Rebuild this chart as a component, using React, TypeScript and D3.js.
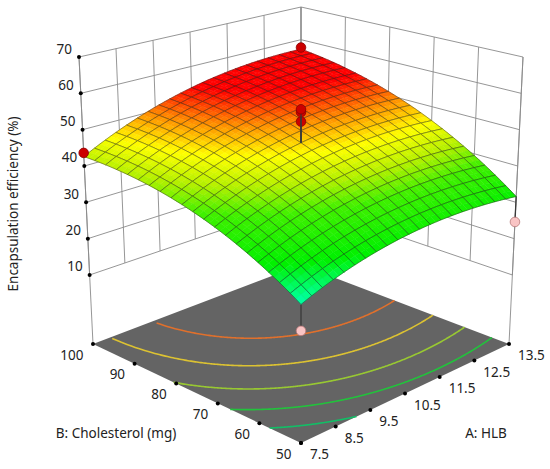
import React, { useEffect, useRef } from 'react';
import * as d3 from 'd3';

// factor ticks
const hlbTicks = [7.5, 8.5, 9.5, 10.5, 11.5, 12.5, 13.5];
const cholTicks = [50, 60, 70, 80, 90, 100];
const effTicks = [10, 20, 30, 40, 50, 60, 70];
const effFloor = -9;
const effTop = 70;

// quadratic model in coded units: intercept, A, B, AB, A^2, B^2
const modelCoef = [47.5, 5.25, 10.75, 2.0, -4.0, -4.4];

// design points (actual values)
const pointHLB = [7.5, 13.5, 7.5, 13.5, 10.5, 10.5, 10.5];
const pointChol = [100, 50, 50, 100, 75, 75, 75];
const pointEff = [43.6, 24.6, 18.6, 57.6, 53.3, 55.9, 56.7];

// floor contour levels
const contourLevels = [30, 35, 40, 45, 50];
const contourColors = ['#12be66', '#22c23c', '#98c832', '#dcc232', '#e0702c'];

// surface colour ramp
const colorStops = [24, 27, 31, 38, 42, 46, 50, 54];
const colorRange = ['#00ffd0', '#00ff7a', '#00f000', '#40f000', '#b4f000', '#ffff00', '#ff9000', '#ff0000'];

const W = 550;
const H = 469;
const MESH = 20;
const SUB = 2;
const FONT = "'Noto Sans', 'Open Sans', sans-serif";

// box corners on screen: front, right, left, back (floor and top)
const floorCorners = { f: [301, 443], r: [509, 344], l: [93, 344], b: [301, 265] };
const topCorners = { f: [301, 122], r: [523, 57], l: [79, 57], b: [301, 7] };

const App = () => {
  const ref: any = useRef();

  useEffect(() => {
    const svg = d3.select(ref.current);
    svg.selectAll('*').remove();

    const u = d3.scaleLinear().domain([7.5, 13.5]).range([0, 1]);
    const v = d3.scaleLinear().domain([50, 100]).range([0, 1]);
    const w = d3.scaleLinear().domain([effFloor, effTop]).range([0, 1]);
    const codedA = d3.scaleLinear().domain([7.5, 13.5]).range([-1, 1]);
    const codedB = d3.scaleLinear().domain([50, 100]).range([-1, 1]);
    const color = d3.scaleLinear<string>().domain(colorStops).range(colorRange)
      .interpolate(d3.interpolateRgb).clamp(true);

    const predict = (A: number, B: number) => {
      const a = codedA(A), b = codedB(B);
      const c = modelCoef;
      return c[0] + c[1] * a + c[2] * b + c[3] * a * b + c[4] * a * a + c[5] * b * b;
    };

    const bilerp = (c: any, uu: number, vv: number) => [
      (1 - uu) * (1 - vv) * c.f[0] + uu * (1 - vv) * c.r[0] + (1 - uu) * vv * c.l[0] + uu * vv * c.b[0],
      (1 - uu) * (1 - vv) * c.f[1] + uu * (1 - vv) * c.r[1] + (1 - uu) * vv * c.l[1] + uu * vv * c.b[1],
    ];

    const project = (A: number, B: number, z: number): [number, number] => {
      const uu = u(A), vv = v(B), ww = w(z);
      const p0 = bilerp(floorCorners, uu, vv);
      const p1 = bilerp(topCorners, uu, vv);
      return [p0[0] + (p1[0] - p0[0]) * ww, p0[1] + (p1[1] - p0[1]) * ww];
    };

    const line = d3.line<[number, number]>().x(d => d[0]).y(d => d[1]);

    svg.append('rect').attr('width', W).attr('height', H).attr('fill', '#fff');

    // back walls
    const walls = svg.append('g').attr('fill', 'none').attr('stroke', '#8a8a8a').attr('stroke-width', 0.9);
    effTicks.forEach(z => {
      walls.append('path').attr('d', line([project(7.5, 100, z), project(13.5, 100, z), project(13.5, 50, z)]));
    });
    hlbTicks.forEach(A => {
      walls.append('path').attr('d', line([project(A, 100, 10), project(A, 100, effTop)]));
    });
    cholTicks.forEach(B => {
      walls.append('path').attr('d', line([project(13.5, B, 10), project(13.5, B, effTop)]));
    });
    [[7.5, 100], [13.5, 50], [13.5, 100]].forEach(([A, B]) => {
      walls.append('path').attr('d', line([project(A, B, effFloor), project(A, B, effTop)]));
    });

    // floor
    svg.append('path')
      .attr('d', line([project(7.5, 50, effFloor), project(13.5, 50, effFloor), project(13.5, 100, effFloor), project(7.5, 100, effFloor)]) + 'Z')
      .attr('fill', '#646464');

    // floor contours
    const steps = d3.range(0, 401).map(k => 7.5 + (6 * k) / 400);
    contourLevels.forEach((lev, li) => {
      const pts: [number, number][] = [];
      steps.forEach(A => {
        const a = codedA(A), c = modelCoef;
        const q = c[2] + c[3] * a;
        const r = c[0] + c[1] * a + c[4] * a * a - lev;
        const disc = q * q - 4 * c[5] * r;
        if (disc < 0) return;
        const b = (-q + Math.sqrt(disc)) / (2 * c[5]);
        if (b < -1 || b > 1) return;
        pts.push(project(A, codedB.invert(b), effFloor));
      });
      svg.append('path').attr('d', line(pts)).attr('fill', 'none')
        .attr('stroke', contourColors[li]).attr('stroke-width', 1.6);
    });

    // tick dots and labels
    const ticks = svg.append('g').attr('font-family', FONT).attr('font-size', 13.5).attr('fill', '#222');
    effTicks.forEach(z => {
      const p = project(7.5, 100, z);
      ticks.append('circle').attr('cx', p[0]).attr('cy', p[1]).attr('r', 2).attr('fill', '#000');
      ticks.append('text').attr('x', p[0] - 7).attr('y', p[1] - 8.5).attr('text-anchor', 'end')
        .attr('dominant-baseline', 'central').text(z);
    });
    hlbTicks.forEach(A => {
      const p = project(A, 50, effFloor);
      ticks.append('circle').attr('cx', p[0]).attr('cy', p[1]).attr('r', 2).attr('fill', '#000');
      ticks.append('text').attr('x', p[0] + 9).attr('y', p[1] + 11).attr('text-anchor', 'start')
        .attr('dominant-baseline', 'central').text(A.toFixed(1));
    });
    cholTicks.forEach(B => {
      const p = project(7.5, B, effFloor);
      ticks.append('circle').attr('cx', p[0]).attr('cy', p[1]).attr('r', 2).attr('fill', '#000');
      ticks.append('text').attr('x', p[0] - 9.5).attr('y', p[1] + 10.5).attr('text-anchor', 'end')
        .attr('dominant-baseline', 'central').text(B);
    });

    // design points: below surface first
    const drawPoint = (g: any, i: number) => {
      const zs = predict(pointHLB[i], pointChol[i]);
      const above = pointEff[i] >= zs;
      const p = project(pointHLB[i], pointChol[i], pointEff[i]);
      const s = project(pointHLB[i], pointChol[i], zs);
      g.append('path').attr('d', line([p, s])).attr('stroke', '#3a3a3a').attr('stroke-width', 1.3);
      g.append('circle').attr('cx', p[0]).attr('cy', p[1]).attr('r', 4.8)
        .attr('fill', above ? '#cc0000' : '#f9c4c4')
        .attr('stroke', above ? '#8a0000' : '#b87878').attr('stroke-width', 0.8);
    };
    const below = svg.append('g');
    pointEff.forEach((e, i) => {
      if (e < predict(pointHLB[i], pointChol[i])) drawPoint(below, i);
    });

    // surface, back to front
    const surf = svg.append('g');
    const cells: [number, number][] = [];
    for (let i = 0; i < MESH; i++) for (let j = 0; j < MESH; j++) cells.push([i, j]);
    cells.sort((p, q) => (q[0] + q[1]) - (p[0] + p[1]));
    const nA = (k: number) => 7.5 + (6 * k) / (MESH * SUB);
    const nB = (k: number) => 50 + (50 * k) / (MESH * SUB);
    const sp = (ka: number, kb: number) => project(nA(ka), nB(kb), predict(nA(ka), nB(kb)));

    cells.forEach(([i, j]) => {
      for (let si = SUB - 1; si >= 0; si--) {
        for (let sj = SUB - 1; sj >= 0; sj--) {
          const ka = i * SUB + si, kb = j * SUB + sj;
          const zc = predict(nA(ka + 0.5), nB(kb + 0.5));
          const col = color(zc);
          surf.append('path')
            .attr('d', line([sp(ka, kb), sp(ka + 1, kb), sp(ka + 1, kb + 1), sp(ka, kb + 1)]) + 'Z')
            .attr('fill', col).attr('stroke', col).attr('stroke-width', 0.5);
        }
      }
      const edge: [number, number][] = [];
      const a0 = i * SUB, b0 = j * SUB;
      for (let k = 0; k <= SUB; k++) edge.push(sp(a0 + k, b0));
      for (let k = 1; k <= SUB; k++) edge.push(sp(a0 + SUB, b0 + k));
      for (let k = SUB - 1; k >= 0; k--) edge.push(sp(a0 + k, b0 + SUB));
      for (let k = SUB - 1; k >= 0; k--) edge.push(sp(a0, b0 + k));
      surf.append('path').attr('d', line(edge)).attr('fill', 'none')
        .attr('stroke', '#1c1c1c').attr('stroke-opacity', 0.72).attr('stroke-width', 0.6);
    });

    // design points above surface
    const aboveG = svg.append('g');
    pointEff.forEach((e, i) => {
      if (e >= predict(pointHLB[i], pointChol[i])) drawPoint(aboveG, i);
    });

    // axis titles
    const titles = svg.append('g').attr('font-family', FONT).attr('font-size', 13.5).attr('fill', '#222');
    titles.append('text').attr('transform', 'translate(18,204) rotate(-90)').attr('text-anchor', 'middle')
      .text('Encapsulation efficiency (%)');
    titles.append('text').attr('x', 116).attr('y', 433).attr('text-anchor', 'middle')
      .attr('dominant-baseline', 'central').text('B: Cholesterol (mg)');
    titles.append('text').attr('x', 486).attr('y', 433).attr('text-anchor', 'middle')
      .attr('dominant-baseline', 'central').text('A: HLB');
  }, []);

  return (
    <div style={{ position: 'absolute', left: 0, top: 0 }}>
      <svg ref={ref} width={W} height={H} style={{ display: 'block' }} />
    </div>
  );
};

export default App;
